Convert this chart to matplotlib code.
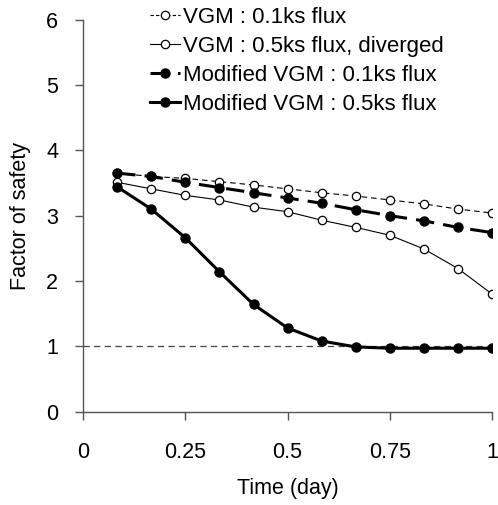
import matplotlib.pyplot as plt
from matplotlib.lines import Line2D

plt.rcParams['font.family'] = ['Liberation Sans', 'DejaVu Sans']

time_day = [k / 12 for k in range(1, 13)]

vgm_01 = [3.65, 3.60, 3.57, 3.52, 3.47, 3.41, 3.35, 3.30, 3.24, 3.18, 3.10, 3.04]
vgm_05 = [3.51, 3.41, 3.31, 3.24, 3.13, 3.06, 2.93, 2.82, 2.70, 2.49, 2.19, 1.80]
mod_01 = [3.65, 3.60, 3.51, 3.43, 3.35, 3.27, 3.19, 3.09, 3.00, 2.92, 2.82, 2.74]
mod_05 = [3.44, 3.10, 2.66, 2.14, 1.64, 1.28, 1.08, 0.99, 0.97, 0.97, 0.97, 0.97]

labels = ["VGM : 0.1ks flux",
          "VGM : 0.5ks flux, diverged",
          "Modified VGM : 0.1ks flux",
          "Modified VGM : 0.5ks flux"]

AXIS_COLOR = "#555555"

fig = plt.figure(figsize=(4.98, 5.05), dpi=100)
ax = fig.add_axes([0.167, 0.185, 0.821, 0.776])

ax.axhline(1, color="#444444", lw=0.9, ls=(0, (5, 3.5)), zorder=1)

ax.plot(time_day, vgm_01, color="black", lw=0.8, ls=(0, (5, 3.5)),
        marker="o", ms=6, mfc="white", mec="black", mew=0.9, zorder=3)
ax.plot(time_day, vgm_05, color="black", lw=0.8, ls="-",
        marker="o", ms=6, mfc="white", mec="black", mew=0.9, zorder=3)
ax.plot(time_day, mod_01, color="black", lw=2.2, ls=(0, (6, 3)),
        marker="o", ms=6.5, mfc="black", mec="black", zorder=4)
ax.plot(time_day, mod_05, color="black", lw=2.2, ls="-",
        marker="o", ms=6.5, mfc="black", mec="black", zorder=4)

ax.set_xlim(0, 1)
ax.set_ylim(0, 6)
ax.set_xticks([0, 0.25, 0.5, 0.75, 1])
ax.set_xticklabels(["0", "0.25", "0.5", "0.75", "1"])
ax.set_yticks(range(0, 7))

for s in ["top", "right"]:
    ax.spines[s].set_visible(False)
for s in ["left", "bottom"]:
    ax.spines[s].set_color(AXIS_COLOR)
    ax.spines[s].set_linewidth(1.0)

ax.tick_params(axis="both", direction="out", length=6, width=1.0,
               color=AXIS_COLOR, labelsize=15.5)
ax.tick_params(axis="x", pad=16)
ax.tick_params(axis="y", pad=12)
ax.set_xlabel("Time (day)", fontsize=15.5, labelpad=11)
ax.set_ylabel("Factor of safety", fontsize=15.5, labelpad=11)

handles = [
    Line2D([], [], color="black", lw=0.8, ls=(0, (3, 2)), marker="o", ms=6,
           mfc="white", mec="black", mew=0.9),
    Line2D([], [], color="black", lw=0.8, ls="-", marker="o", ms=6,
           mfc="white", mec="black", mew=0.9),
    Line2D([], [], color="black", lw=2.2, ls=(0, (6, 3)), marker="o", ms=6.5,
           mfc="black", mec="black"),
    Line2D([], [], color="black", lw=2.2, ls="-", marker="o", ms=6.5,
           mfc="black", mec="black"),
]
fig.legend(handles, labels, loc="upper left",
           bbox_to_anchor=(150 / 498, 1 - 7 / 505),
           frameon=False, fontsize=16, handlelength=1.35, handletextpad=0.15,
           labelspacing=0.36, borderpad=0, borderaxespad=0)

fig.savefig("out.png", dpi=100)
